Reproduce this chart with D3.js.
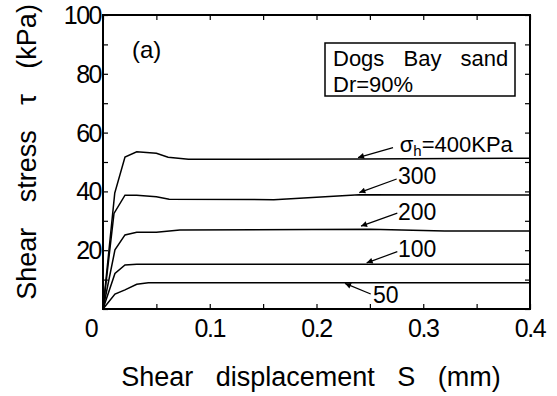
<!DOCTYPE html>
<html lang="en">
<head>
<meta charset="UTF-8">
<title>Shear stress vs displacement</title>
<style>
  body { margin: 0; background: #fff; }
  text { font-family: "Liberation Sans", Arial, sans-serif; fill: #000; }
</style>
</head>
<body>
<svg id="svg" width="557" height="396"></svg>
<script src="https://d3js.org/d3.v7.min.js"></script>
<script>
  // series: displacement (mm) and shear stress (kPa)
  const xs400 = [0, 0.011, 0.0206, 0.0316, 0.05, 0.061, 0.08, 0.24, 0.4]
  const ys400 = [0, 39.4, 51.7, 53.5, 53.0, 51.6, 50.9, 51.0, 51.3]
  const xs300 = [0, 0.0103, 0.0206, 0.0316, 0.05, 0.062, 0.16, 0.24, 0.4]
  const ys300 = [0, 32.5, 38.7, 38.7, 38.2, 37.3, 37.2, 38.9, 38.8]
  const xs200 = [0, 0.0112, 0.0206, 0.0316, 0.05, 0.072, 0.25, 0.32, 0.4]
  const ys200 = [0, 20.1, 25.2, 26.1, 26.1, 26.9, 27.1, 26.5, 26.5]
  const xs100 = [0, 0.0112, 0.0206, 0.0316, 0.4]
  const ys100 = [0, 12.1, 15.0, 15.2, 15.2]
  const xs50 = [0, 0.0112, 0.0206, 0.0316, 0.0425, 0.4]
  const ys50 = [0, 5.1, 6.5, 8.4, 8.9, 8.9]

  const xTickLabels = ['0', '0.1', '0.2', '0.3', '0.4']
  const yTickLabels = ['20', '40', '60', '80', '100']

  // curve labels: text anchor and arrow (data coords)
  const curveLabels = ['300', '200', '100', '50']
  const labelPos = [[0.2763, 42.5], [0.2763, 30.3], [0.2763, 17.7], [0.2529, 2.0]]
  const arrowFrom = [[0.2751, 44.2], [0.2757, 32.6], [0.2757, 19.5], [0.2508, 5.1]]
  const arrowTo = [[0.2401, 39.6], [0.2417, 28.2], [0.247, 15.7], [0.2267, 8.7]]

  const svg = d3.select('#svg')
  const pl = 103, pr = 530, pt = 15, pb = 309

  const xScale = d3.scaleLinear().domain([0, 0.4]).range([pl, pr])
  const yScale = d3.scaleLinear().domain([0, 100]).range([pb, pt])

  // arrow head
  svg.append('defs').append('marker')
    .attr('id', 'ah')
    .attr('viewBox', '0 0 10 10')
    .attr('refX', 10).attr('refY', 5)
    .attr('markerWidth', 9).attr('markerHeight', 6)
    .attr('markerUnits', 'userSpaceOnUse')
    .attr('orient', 'auto')
    .append('path').attr('d', 'M0,0 L10,5 L0,10 z').attr('fill', '#000')

  // inward ticks on all four sides
  const xt = d3.range(0, 0.4001, 0.05)
  const yt = d3.range(0, 100.01, 10)
  svg.append('g').attr('transform', `translate(0,${pb})`)
    .call(d3.axisBottom(xScale).tickValues(xt).tickSize(-5).tickFormat(''))
  svg.append('g').attr('transform', `translate(0,${pt})`)
    .call(d3.axisTop(xScale).tickValues(xt).tickSize(-5).tickFormat(''))
  svg.append('g').attr('transform', `translate(${pl},0)`)
    .call(d3.axisLeft(yScale).tickValues(yt).tickSize(-5).tickFormat(''))
  svg.append('g').attr('transform', `translate(${pr},0)`)
    .call(d3.axisRight(yScale).tickValues(yt).tickSize(-5).tickFormat(''))
  svg.selectAll('.domain').remove()
  svg.selectAll('.tick line').attr('stroke', '#000').attr('stroke-width', 1.2)

  svg.append('rect')
    .attr('x', pl).attr('y', pt)
    .attr('width', pr - pl).attr('height', pb - pt)
    .attr('fill', 'none').attr('stroke', '#000').attr('stroke-width', 2)

  // tick labels
  svg.selectAll('.xl').data(xTickLabels).enter().append('text')
    .attr('x', d => xScale(+d) - (d === '0' ? 12 : 0))
    .attr('y', 337)
    .attr('text-anchor', 'middle')
    .attr('font-size', 25).attr('letter-spacing', -1.5)
    .text(d => d)
  svg.selectAll('.yl').data(yTickLabels).enter().append('text')
    .attr('x', 101)
    .attr('y', d => yScale(+d) + 9)
    .attr('text-anchor', 'end')
    .attr('font-size', 25).attr('letter-spacing', -1.5)
    .text(d => d)

  // curves
  const line = d3.line().x(d => xScale(d[0])).y(d => yScale(d[1]))
  const series = [[xs400, ys400], [xs300, ys300], [xs200, ys200], [xs100, ys100], [xs50, ys50]]
  svg.selectAll('.curve').data(series).enter().append('path')
    .attr('d', s => line(d3.zip(s[0], s[1])))
    .attr('fill', 'none').attr('stroke', '#000').attr('stroke-width', 1.5)

  // σh=400KPa label
  svg.append('line')
    .attr('x1', xScale(0.2717)).attr('y1', yScale(54.9))
    .attr('x2', xScale(0.2389)).attr('y2', yScale(51.5))
    .attr('stroke', '#000').attr('stroke-width', 1.2).attr('marker-end', 'url(#ah)')
  const t400 = svg.append('text')
    .attr('x', xScale(0.278)).attr('y', yScale(53.4))
    .attr('font-size', 22)
  t400.append('tspan').text('σ')
  t400.append('tspan').attr('font-size', 15).attr('dy', 4).text('h')
  t400.append('tspan').attr('dy', -4).text('=400KPa')

  // other curve labels
  svg.selectAll('.arr').data(curveLabels).enter().append('line')
    .attr('x1', (d, i) => xScale(arrowFrom[i][0])).attr('y1', (d, i) => yScale(arrowFrom[i][1]))
    .attr('x2', (d, i) => xScale(arrowTo[i][0])).attr('y2', (d, i) => yScale(arrowTo[i][1]))
    .attr('stroke', '#000').attr('stroke-width', 1.2).attr('marker-end', 'url(#ah)')
  svg.selectAll('.cl').data(curveLabels).enter().append('text')
    .attr('x', (d, i) => xScale(labelPos[i][0]))
    .attr('y', (d, i) => yScale(labelPos[i][1]))
    .attr('font-size', 23)
    .text(d => d)

  // panel tag and legend box
  svg.append('text').attr('x', 132).attr('y', 58).attr('font-size', 24).text('(a)')
  svg.append('rect')
    .attr('x', 325).attr('y', 43).attr('width', 190).attr('height', 53)
    .attr('fill', '#fff').attr('stroke', '#000').attr('stroke-width', 1.5)
  svg.append('text').attr('x', 333).attr('y', 66).attr('font-size', 22)
    .attr('word-spacing', 13).text('Dogs Bay sand')
  svg.append('text').attr('x', 333).attr('y', 92).attr('font-size', 22)
    .text('Dr=90%')

  // axis titles
  svg.append('text')
    .attr('x', 311).attr('y', 386)
    .attr('text-anchor', 'middle').attr('font-size', 27).attr('word-spacing', 15)
    .text('Shear displacement S (mm)')
  svg.append('text')
    .attr('transform', 'translate(36,152) rotate(-90)')
    .attr('text-anchor', 'middle').attr('font-size', 27).attr('word-spacing', 18)
    .text('Shear stress τ (kPa)')
</script>
</body>
</html>
